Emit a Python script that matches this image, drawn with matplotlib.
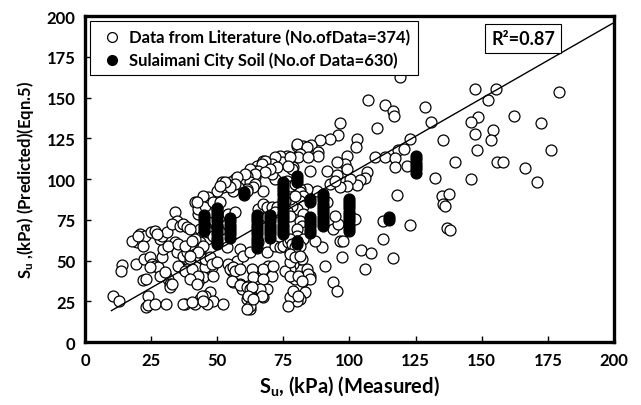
import matplotlib
matplotlib.use("Agg")
import matplotlib.pyplot as plt

plt.rcParams['font.family'] = ['Lato', 'DejaVu Sans']
plt.rcParams['font.weight'] = 'bold'
plt.rcParams['mathtext.fontset'] = 'custom'
plt.rcParams['mathtext.rm'] = 'Lato:bold'
plt.rcParams['mathtext.bf'] = 'Lato:bold'
plt.rcParams['mathtext.it'] = 'Lato:bold'

# data from literature (open circles)
lit_x = [147.4, 155.4, 179.2, 128.5, 152.4, 130.8, 148.6, 145.9, 162.2, 172.4, 154.3, 147.4, 135.4, 153.5,
         148.2, 176.2, 139.9, 155.8, 158.0, 166.4, 132.3, 145.9, 170.9, 135.0, 137.6, 135.4, 136.0, 137.0, 138.0,
         119.1, 107.0, 113.4, 116.4, 116.8, 110.4, 96.4, 95.7, 102.8, 102.5, 92.6, 88.8, 85.4, 82.4, 80.2,
         88.1, 88.1, 80.5, 76.4, 73.7, 99.0, 98.3, 95.3, 67.3, 65.0, 71.8, 74.9, 78.6, 85.0, 91.5,
         95.3, 106.6, 105.9, 104.0, 102.8, 100.2, 99.0, 96.4, 92.6, 94.5, 87.7, 83.9, 80.5, 77.5, 71.8,
         70.7, 67.3, 64.3, 64.3, 91.5, 109.6, 113.4, 118.3, 120.6, 122.9, 117.2, 117.2, 121.7, 118.0,
         112.7, 122.9, 112.7, 116.4, 104.3, 108.1, 105.9, 97.2, 90.7, 93.8, 95.3, 96.4, 97.5, 89.6, 87.0,
         93.8, 95.7, 94.5, 102.0, 81.3, 81.3, 83.9, 85.0, 82.4, 83.2, 81.3, 99.0,
         78.6, 77.5, 75.6, 78.2, 79.4, 81.3, 82.4, 84.3, 85.0, 80.1, 77.5, 76.7, 63.5, 63.5, 62.4, 63.1,
         68.8, 67.3, 62.4, 65.4, 68.8, 71.8, 73.7, 74.9, 76.7, 77.5, 78.3, 82.0, 77.5,
         80.2, 83.9, 81.3, 80.5, 84.3, 74.5, 71.8, 70.7, 72.6, 77.5, 78.3, 76.7, 68.1, 66.9, 65.4, 69.9, 68.1,
         62.4, 64.3, 61.2, 59.7, 62.4, 64.3, 63.5, 61.2, 57.8, 56.7, 54.8, 52.9, 51.8, 56.0,
         76.4, 77.5, 79.4, 81.3, 82.4, 81.3, 82.4, 80.2, 78.3, 77.5, 79.4, 75.6,
         65.4, 67.3, 68.8, 70.7, 72.6, 71.8, 68.8, 76.4, 77.5,
         82.4, 81.3, 82.0, 83.2, 80.2, 80.2, 82.4, 80.2, 81.3,
         77.5, 78.3, 79.4, 77.5, 79.4, 81.3, 77.5, 80.5, 82.0, 78.6, 80.5,
         69.2, 67.3, 70.7, 71.1, 63.1, 63.5, 67.3, 64.3, 66.2, 62.4, 61.6, 61.2, 62.4, 61.2, 66.9,
         55.6, 56.0, 58.6, 59.4, 57.5, 55.6, 54.1, 47.3, 45.4, 48.4, 52.2, 46.1, 43.5,
         43.5, 44.6, 47.3, 49.1, 48.0, 45.4, 44.6, 48.4, 43.5, 45.4, 44.2, 46.1, 43.5,
         10.6, 12.9, 14.0, 13.6, 19.3, 21.9, 23.1, 23.8, 23.1, 23.8, 26.5, 30.6,
         19.7, 20.8, 22.7, 25.0, 26.5, 22.3, 24.6, 25.3, 26.5, 27.6, 24.6,
         29.1, 29.5, 28.4, 29.1, 31.0, 30.2, 31.4, 32.1, 32.1,
         34.0, 34.8, 32.9, 35.9, 37.0, 38.6, 39.7, 34.0, 35.9, 34.8, 37.0, 38.6, 39.7,
         35.9, 38.6, 39.7, 41.6, 42.7, 37.8, 41.6, 44.2, 44.6,
         41.6, 40.8, 43.5, 44.6, 41.6, 43.5, 45.4, 47.3, 48.0, 49.9,
         42.7, 43.5, 46.1, 48.0, 49.9, 51.0, 54.1, 56.7, 46.5, 48.4, 49.9, 51.0, 52.9, 53.7,
         54.8, 56.0, 56.7, 58.6, 55.6, 58.6, 61.2, 62.4, 63.1, 61.6, 63.5, 58.6, 59.7, 62.4,
         17.8, 27.2, 20.0, 21.9, 28.4, 30.2, 32.9, 41.6, 42.7, 44.2, 45.4,
         31.4, 35.2, 37.8, 40.5, 42.7, 39.7, 35.2, 37.8, 40.5, 42.7, 39.7, 42.3, 37.0, 40.5,
         60.5, 57.5, 56.7, 53.7, 52.2, 54.8, 52.9, 49.9, 51.0, 46.5, 44.6, 42.3, 48.4, 51.0, 61.2]
lit_y = [155.2, 155.2, 153.4, 144.0, 148.5, 135.0, 138.0, 135.0, 138.7, 134.4, 130.0, 127.6, 124.0, 124.0,
         117.8, 117.8, 110.4, 110.4, 110.4, 106.7, 100.6, 100.0, 98.2, 89.6, 90.8, 84.7, 83.4, 70.0, 69.0,
         162.6, 148.5, 145.4, 141.7, 138.7, 131.3, 134.4, 127.0, 124.5, 119.6, 124.5, 124.0, 120.9, 120.2, 120.2,
         116.6, 114.1, 114.1, 114.1, 114.1, 114.1, 109.2, 110.4, 111.0, 108.0, 107.4, 109.8, 107.4, 104.9, 104.9,
         102.5, 104.3, 100.6, 99.4, 96.3, 100.0, 95.7, 95.1, 96.9, 98.8, 92.6, 93.9, 89.6, 92.6, 100.0,
         103.0, 92.6, 101.2, 104.9, 85.9, 113.5, 113.5, 117.8, 118.4, 124.5, 112.9, 107.4, 108.0, 90.2,
         74.2, 71.8, 63.2, 51.5, 56.4, 54.6, 44.8, 52.1, 46.6, 36.8, 31.3, 62.0, 62.0, 58.3, 62.0,
         69.3, 72.4, 77.3, 75.5, 93.9, 50.9, 44.8, 40.5, 37.4, 30.7, 26.4, 106.0,
         47.9, 44.8, 43.6, 39.9, 38.7, 39.9, 38.7, 41.7, 38.7, 25.2, 27.6, 22.1, 43.6, 32.5, 34.4, 31.3,
         32.5, 27.6, 20.2, 61.3, 55.2, 58.9, 58.3, 58.9, 61.3, 55.2, 52.1, 50.9, 49.1,
         121.5, 119.6, 115.3, 113.5, 113.5, 110.4, 113.5, 109.2, 107.4, 113.5, 106.1, 108.0, 111.0, 109.2, 104.9, 106.1, 104.3,
         106.1, 103.0, 101.8, 100.0, 98.2, 96.9, 95.1, 93.9, 95.1, 100.0, 98.2, 96.9, 98.2, 92.6,
         98.8, 95.7, 96.9, 92.0, 89.6, 86.5, 83.4, 81.6, 83.4, 87.7, 89.6, 86.5,
         81.6, 84.7, 82.8, 82.8, 82.8, 79.8, 76.7, 80.4, 77.3,
         78.5, 74.2, 71.2, 67.5, 69.3, 65.0, 63.2, 62.0, 58.9,
         63.2, 60.1, 58.3, 54.0, 52.1, 52.8, 40.5, 40.5, 37.4, 31.3, 28.2,
         46.6, 44.8, 40.5, 46.6, 44.8, 39.9, 38.7, 32.5, 32.5, 30.7, 34.4, 26.4, 22.1, 20.2, 28.2,
         43.6, 36.8, 35.6, 32.5, 49.7, 46.0, 47.9, 30.7, 28.2, 25.2, 23.3, 23.3, 26.4,
         55.2, 50.9, 49.1, 49.1, 46.0, 46.0, 39.9, 40.5, 69.3, 71.2, 65.0, 63.2, 61.3,
         28.2, 25.2, 47.2, 43.6, 47.9, 38.0, 38.7, 28.2, 21.5, 22.7, 23.3, 23.3,
         61.3, 66.3, 65.0, 67.5, 68.1, 50.9, 52.1, 47.9, 46.6, 46.0, 46.0,
         52.1, 57.0, 63.2, 65.0, 67.5, 41.7, 38.7, 35.6, 33.7,
         79.8, 74.2, 72.4, 71.2, 72.4, 70.6, 69.3, 61.3, 58.9, 55.2, 52.8, 55.2, 50.9,
         46.0, 44.8, 41.7, 40.5, 36.8, 23.3, 23.3, 28.2, 25.2,
         63.2, 58.9, 57.0, 58.9, 54.0, 52.1, 50.9, 52.1, 47.9, 49.1,
         78.5, 83.4, 81.6, 79.8, 81.6, 77.3, 78.5, 79.8, 67.5, 65.0, 71.2, 67.5, 63.2, 58.3,
         44.8, 46.0, 43.6, 44.8, 37.4, 35.0, 33.7, 32.5, 33.7, 28.2, 26.4, 57.0, 52.8, 55.2,
         62.0, 66.3, 65.0, 58.9, 40.5, 42.9, 35.6, 85.9, 81.6, 86.5, 83.4,
         58.9, 60.1, 58.9, 62.0, 55.2, 52.8, 46.6, 43.6, 44.8, 40.5, 38.7, 35.6, 23.3, 24.5,
         103.0, 101.2, 96.9, 96.9, 95.1, 95.1, 98.2, 92.6, 95.7, 89.0, 89.6, 85.9, 85.9, 85.9, 92.6]

# Sulaimani city soil (filled), stacked at the measured values
sul_45 = [68, 70, 72, 74, 76, 78]
sul_50 = [60, 62, 64, 66, 68, 70, 72, 74, 76, 78, 80, 82]
sul_55 = [64, 66, 68, 70, 72, 74, 76]
sul_60 = [90, 92]
sul_65 = [58, 60, 62, 64, 66, 68, 70, 72, 74, 76, 78]
sul_70 = [64, 66, 68, 70, 72, 74, 76, 78]
sul_75 = [66, 68, 70, 72, 74, 76, 78, 80, 82, 84, 86, 88, 90, 92, 94, 96, 98]
sul_80 = [60, 62, 98, 100, 102]
sul_85 = [67, 69, 71, 73, 75, 77, 86, 88]
sul_90 = [71, 73, 75, 77, 79, 81, 83, 85, 87, 89, 91]
sul_100 = [68, 70, 72, 74, 76, 78, 80, 82, 84, 86, 88]
sul_115 = [75, 77]
sul_125 = [104, 106, 108, 110, 112, 114]
sul_cols = {45: sul_45, 50: sul_50, 55: sul_55, 60: sul_60, 65: sul_65, 70: sul_70, 75: sul_75,
            80: sul_80, 85: sul_85, 90: sul_90, 100: sul_100, 115: sul_115, 125: sul_125}
sul_x = []
sul_y = []
for k in sul_cols:
    for v in sul_cols[k]:
        sul_x.append(k)
        sul_y.append(v)

# fitted line
line_x = [10, 200]
line_y = [19.3, 196]

fig = plt.figure(figsize=(6.41, 4.06), dpi=100)
ax = fig.add_axes([0.1326, 0.155, 0.8252, 0.803])

ax.scatter(lit_x, lit_y, s=62, facecolors='white', edgecolors='black', linewidths=0.9,
           label='Data from Literature (No.ofData=374)', zorder=2)
ax.scatter(sul_x, sul_y, s=62, facecolors='black', edgecolors='black', linewidths=0.9,
           label='Sulaimani City Soil (No.of Data=630)', zorder=3)
ax.plot(line_x, line_y, color='black', linewidth=1.0, zorder=4)

ax.set_xlim(0, 200)
ax.set_ylim(0, 200)
ax.set_xticks(range(0, 201, 25))
ax.set_yticks(range(0, 201, 25))
ax.tick_params(direction='in', length=4.5, width=1, labelsize=12, pad=7)
for lab in ax.get_xticklabels() + ax.get_yticklabels():
    lab.set_fontweight('bold')
for sp in ax.spines.values():
    sp.set_linewidth(2.4)

ax.set_xlabel('S$_u$, (kPa) (Measured)', fontsize=14.5, fontweight='bold')
ax.xaxis.set_label_coords(0.5, -0.132)
ax.xaxis.label.set_verticalalignment('center')
ax.set_ylabel('S$_u$ ,(kPa) (Predicted)(Eqn.5)', fontsize=12, fontweight='bold')
ax.yaxis.set_label_coords(-0.113, 0.5)
ax.yaxis.label.set_verticalalignment('center')

leg = ax.legend(loc='upper left', fontsize=12, frameon=True, fancybox=False, edgecolor='black',
                framealpha=1, handletextpad=0.2, borderpad=0.45, labelspacing=0.38,
                markerscale=0.9, borderaxespad=0.3, handlelength=1.7)
leg.get_frame().set_linewidth(0.8)
for t in leg.get_texts():
    t.set_fontweight('bold')

ax.text(0.828, 0.931, 'R²=0.87', transform=ax.transAxes, fontsize=13, fontweight='bold',
        ha='center', va='center', zorder=5,
        bbox=dict(boxstyle='square,pad=0.35', facecolor='white', edgecolor='black', linewidth=0.8))

fig.savefig('out.png', dpi=100)
